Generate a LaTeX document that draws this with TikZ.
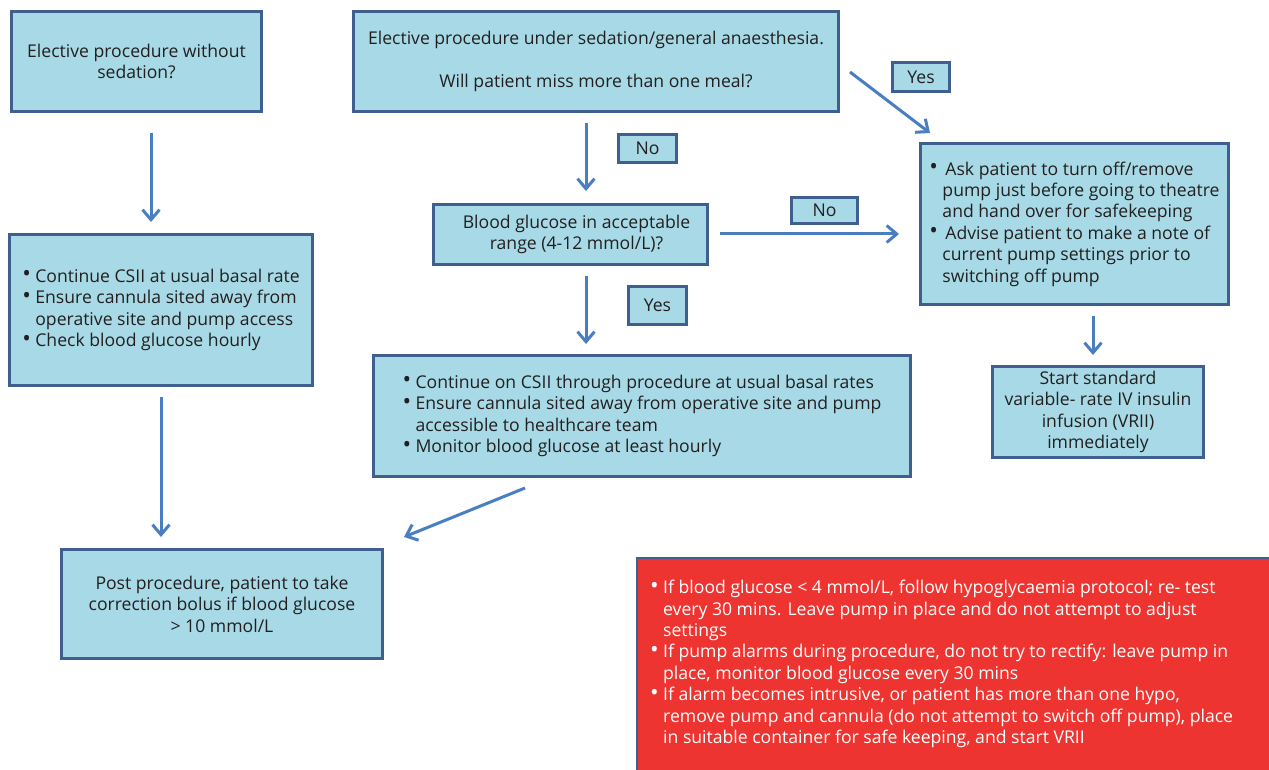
\documentclass[tikz,border=0pt]{standalone}
\usepackage{fontspec}
\setmainfont{Open Sans}
\usetikzlibrary{arrows.meta}
\definecolor{boxfill}{HTML}{A7DAE6}
\definecolor{boxline}{HTML}{3F5F8F}
\definecolor{arrowc}{HTML}{4A7EC2}
\definecolor{txt}{HTML}{231F20}
\definecolor{redfill}{HTML}{EE3430}
\newcommand\fs{\fontsize{17.6}{21.4}\selectfont}
\newcommand\bl{\makebox[13pt][l]{\raisebox{0.5pt}{\scalebox{1.3}{\textbullet}}}}
\newcommand\ind{\hspace*{13pt}}
\begin{document}
\begin{tikzpicture}[x=1pt,y=-1pt,
  box/.style={draw=boxline, line width=3.5pt, fill=boxfill, text=txt, inner sep=0pt, font=\fs, align=center},
  lbl/.style={box},
  arr/.style={draw=arrowc, line width=3pt, -{Straight Barb[length=10pt,width=17pt,line width=3pt]}}]
\useasboundingbox (0,0) rectangle (1269,770);
\fill[white] (0,0) rectangle (1269,770);

\node[box, minimum width=250pt, minimum height=100pt] (A) at (136.5,61.5)
  {Elective procedure without\\sedation?};
\node[box, minimum width=485pt, minimum height=100pt] (B) at (596,61.5)
  {Elective procedure under sedation/general anaesthesia.\\[21.4pt]Will patient miss more than one meal?};
\node[lbl, minimum width=57pt, minimum height=29pt] (Y1) at (921,77) {Yes};
\node[lbl, minimum width=58pt, minimum height=28pt] (N1) at (647.5,148.5) {No};
\node[box, minimum width=274pt, minimum height=60pt] (C) at (570.5,234.5)
  {\hspace*{12pt}Blood glucose in acceptable\\\hspace*{12pt}range (4-12 mmol/L)?};
\node[lbl, minimum width=66pt, minimum height=26pt] (N2) at (824.5,210.5) {No};
\node[box, minimum width=308pt, minimum height=161pt, align=left] (D) at (1074.5,224)
  {\bl\,Ask patient to turn off/remove\\\ind pump just before going to theatre\\\ind and hand over for safekeeping\\
   \bl\,Advise patient to make a note of\\\ind current pump settings prior to\\\ind switching off pump};
\node[box, minimum width=303pt, minimum height=151pt, align=left] (E) at (161,310)
  {\bl Continue CSII at usual basal rate\\\bl Ensure cannula sited away from\\\ind operative site and pump access\\\bl Check blood glucose hourly};
\node[lbl, minimum width=58pt, minimum height=38pt] (Y2) at (657.5,305.5) {Yes};
\node[box, minimum width=537pt, minimum height=121pt, align=left] (F) at (642,416)
  {\bl Continue on CSII through procedure at usual basal rates\\\bl Ensure cannula sited away from operative site and pump\\\ind accessible to healthcare team\\\bl Monitor blood glucose at least hourly};
\node[box, minimum width=211pt, minimum height=91pt] (G) at (1098,412)
  {Start standard\\variable- rate IV insulin\\infusion (VRII)\\immediately};
\node[box, minimum width=321pt, minimum height=109pt] (H) at (222,604)
  {Post procedure, patient to take\\correction bolus if blood glucose\\{>} 10 mmol/L};

\node[draw=boxline, line width=2pt, fill=redfill, anchor=north west, minimum width=640pt, minimum height=220pt] (R) at (636,557) {};
\node[anchor=north west, text=white, font=\fs, align=left, inner sep=0pt] (RT) at (650,580)
  {\bl If blood glucose < 4 mmol/L, follow hypoglycaemia protocol; re- test\\\ind every 30 mins. Leave pump in place and do not attempt to adjust\\\ind settings\\
   \bl If pump alarms during procedure, do not try to rectify: leave pump in\\\ind place, monitor blood glucose every 30 mins\\
   \bl If alarm becomes intrusive, or patient has more than one hypo,\\\ind remove pump and cannula (do not attempt to switch off pump), place\\\ind in suitable container for safe keeping, and start VRII};

\coordinate (a1s) at (151,133); \coordinate (a1e) at (151,222);
\coordinate (a2s) at (586,123); \coordinate (a2e) at (586,191);
\coordinate (a3s) at (850,72);  \coordinate (a3e) at (930,133);
\coordinate (a4s) at (720,234); \coordinate (a4e) at (899,234);
\coordinate (a5s) at (586,276); \coordinate (a5e) at (586,344);
\coordinate (a6s) at (1093,316); \coordinate (a6e) at (1093,355);
\coordinate (a7s) at (161,397); \coordinate (a7e) at (161,537);
\coordinate (a8s) at (525,488); \coordinate (a8e) at (404,537);
\foreach \i in {1,...,8} \draw[arr] (a\i s) -- (a\i e);
\end{tikzpicture}
\end{document}
